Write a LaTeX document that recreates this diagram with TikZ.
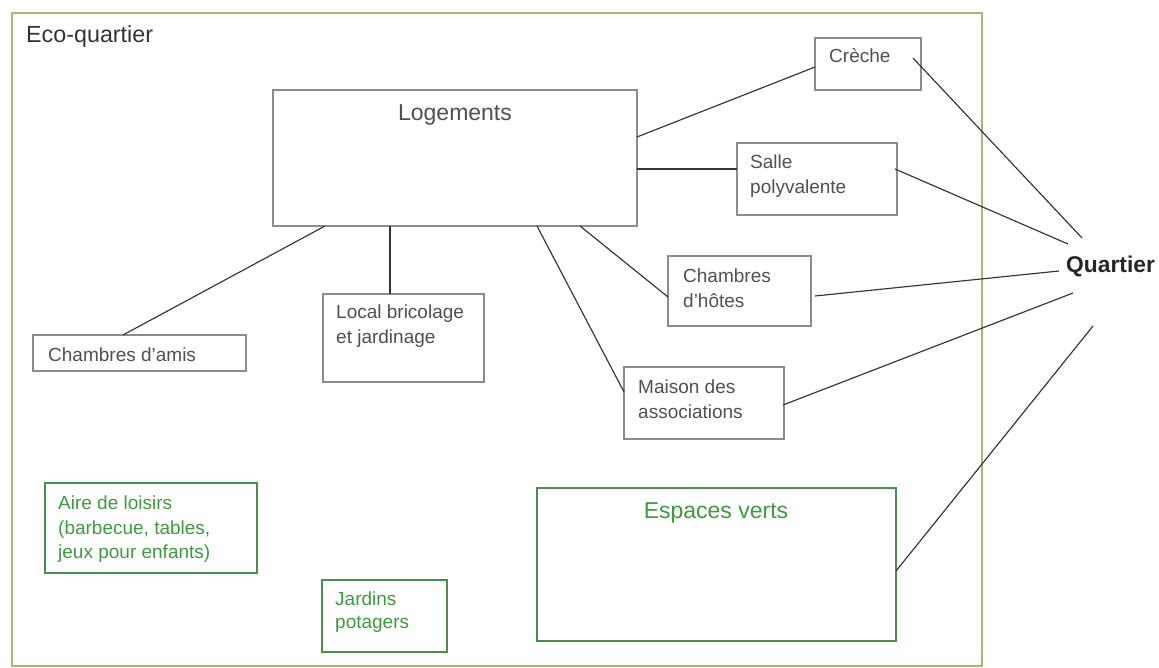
\documentclass[tikz,border=0pt]{standalone}
\usepackage{fontspec}
\setmainfont{Liberation Sans}
\usetikzlibrary{calc}
\definecolor{boxgray}{HTML}{8C8C8C}
\definecolor{txtgray}{HTML}{505050}
\definecolor{grn}{HTML}{4A8F4A}
\definecolor{grntxt}{HTML}{3E9A3E}
\definecolor{framecol}{HTML}{B2B274}
\definecolor{linkcol}{HTML}{333333}
\begin{document}
\begin{tikzpicture}[x=1pt,y=-1pt,
  gbox/.style={draw=boxgray, line width=1.2pt, inner sep=0pt, outer sep=0pt, anchor=north west},
  vbox/.style={draw=grn, line width=1.2pt, inner sep=0pt, outer sep=0pt, anchor=north west},
  small/.style={font=\fontsize{19}{24.5}\selectfont, text=txtgray, inner sep=0pt, align=left},
  gsmall/.style={small, text=grntxt},
  big/.style={font=\fontsize{23}{28}\selectfont, inner sep=0pt},
  link/.style={draw=linkcol, line width=1.15pt}]
\useasboundingbox[fill=white] (0,0) rectangle (1159,668);
% outer frame
\node[draw=framecol, line width=1.5pt, inner sep=0pt, outer sep=0pt, anchor=north west,
      minimum width=970pt, minimum height=653pt] (frame) at (12,13) {};
\node[font=\fontsize{23.3}{27}\selectfont, text=black!80, inner sep=0pt, anchor=base west] (teco) at (26,43) {Eco-quartier};

% boxes
\node[gbox, minimum width=364pt, minimum height=136pt] (log) at (273,90) {};
\node[gbox, minimum width=106pt, minimum height=52pt] (cre) at (815,38) {};
\node[gbox, minimum width=160pt, minimum height=72pt] (sal) at (737,143) {};
\node[gbox, minimum width=143pt, minimum height=70pt] (cha) at (668,256) {};
\node[gbox, minimum width=160pt, minimum height=72pt] (mai) at (624,367) {};
\node[gbox, minimum width=161pt, minimum height=88pt] (loc) at (323,294) {};
\node[gbox, minimum width=213pt, minimum height=36pt] (ami) at (33,335) {};
\node[vbox, minimum width=212pt, minimum height=90pt] (air) at (45,483) {};
\node[vbox, minimum width=125pt, minimum height=72pt] (jar) at (322,580) {};
\node[vbox, minimum width=359pt, minimum height=153pt] (esp) at (537,488) {};

% texts
\node[big, text=txtgray, anchor=base] (tlog) at (455,121) {Logements};
\node[small, anchor=base west] (tcre) at (829,63) {Crèche};
\node[small, anchor=north west] (tsal) at (750,155) {Salle\\polyvalente};
\node[small, anchor=north west] (tcha) at (683,269) {Chambres\\d’hôtes};
\node[small, anchor=north west] (tmai) at (638,380) {Maison des\\associations};
\node[small, anchor=north west] (tloc) at (336,305) {Local bricolage\\et jardinage};
\node[small, anchor=base west] (tami) at (48,361) {Chambres d’amis};
\node[gsmall, anchor=north west] (tair) at (58,496) {Aire de loisirs\\(barbecue, tables,\\jeux pour enfants)};
\node[gsmall, anchor=north west, font=\fontsize{19}{23}\selectfont] (tjar) at (335,592) {Jardins\\potagers};
\node[big, text=grntxt, anchor=base] (tesp) at (716,518) {Espaces verts};
\node[font=\fontsize{22.8}{26}\selectfont\bfseries, text=black!85, inner sep=0pt, anchor=base west] (q) at (1066,273) {Quartier};

% free ends near Quartier
\coordinate (q1) at (1082,238);
\coordinate (q2) at (1068,244);
\coordinate (q3) at (1059,271);
\coordinate (q4) at (1073,293);
\coordinate (q5) at (1093,326);

% connectors from Logements
\draw[link] ($(log.north east)+(0,47)$) -- ($(cre.north west)+(0,29)$);
\draw[link] ($(log.north east)+(0,79)$) -- ($(sal.north west)+(0,26)$);
\draw[link] ($(log.south west)+(52,0)$) -- ($(ami.north west)+(90,0)$);
\draw[link] ($(log.south west)+(117,0)$) -- ($(loc.north west)+(67,0)$);
\draw[link] ($(log.south west)+(264,0)$) -- ($(mai.north west)+(0,25)$);
\draw[link] ($(log.south west)+(307,0)$) -- ($(cha.north west)+(0,41)$);

% connectors to Quartier
\draw[link] ($(cre.north east)+(-8,20)$) -- (q1);
\draw[link] ($(sal.north east)+(-2,26)$) -- (q2);
\draw[link] ($(cha.north east)+(4,40)$) -- (q3);
\draw[link] ($(mai.north east)+(-1,38)$) -- (q4);
\draw[link] ($(esp.north east)+(0,83)$) -- (q5);
\end{tikzpicture}
\end{document}
